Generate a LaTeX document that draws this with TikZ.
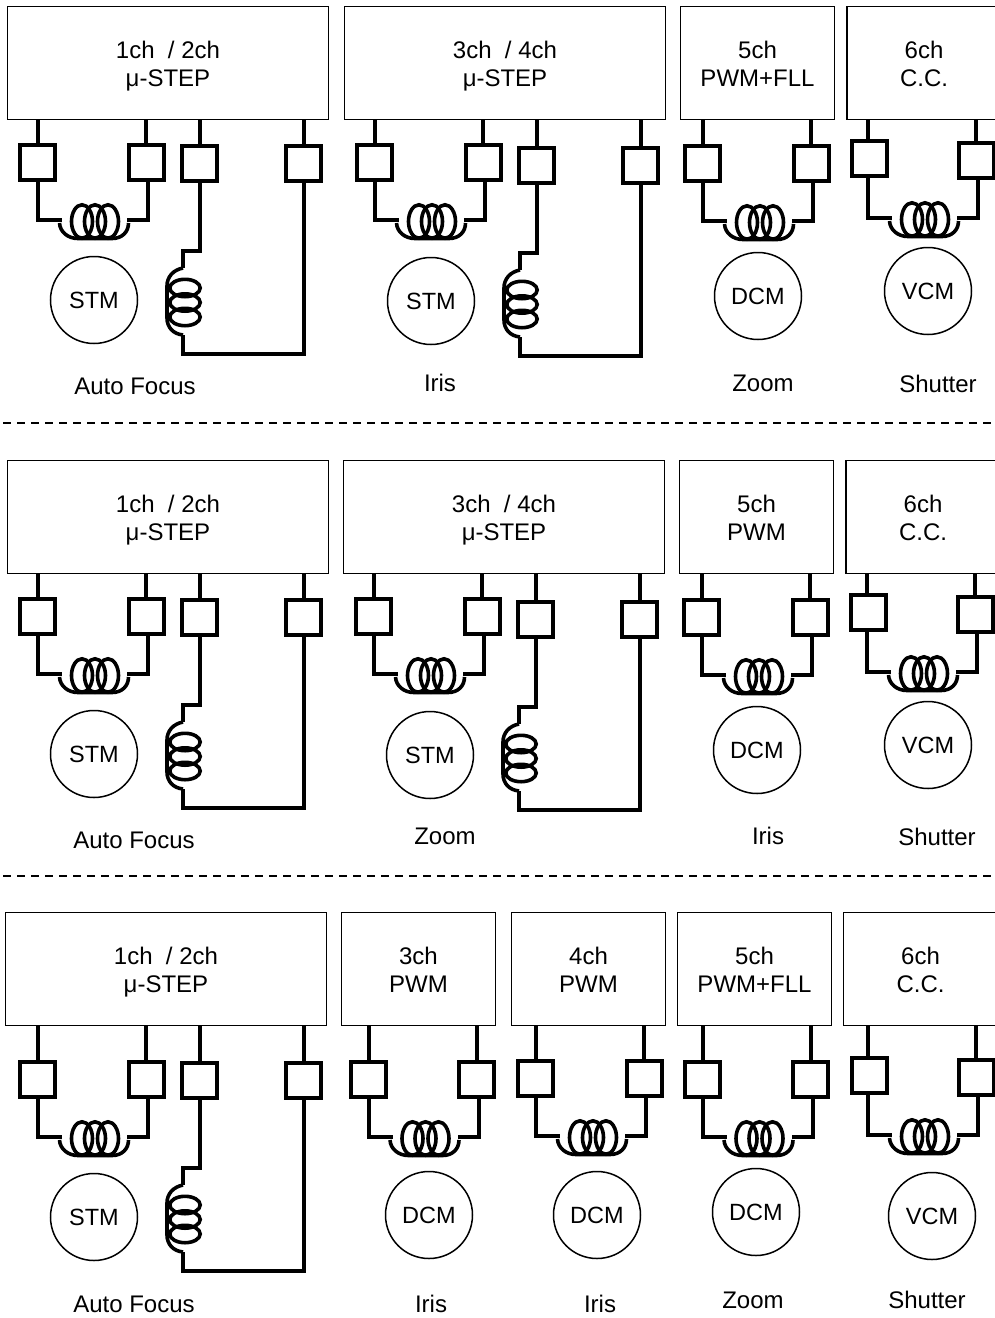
\documentclass[tikz,border=0pt]{standalone}
\usepackage{fontspec}
\setmainfont{Liberation Sans}
\usetikzlibrary{positioning}
\usetikzlibrary{calc}
\tikzset{
  chbox/.style={draw,line width=1.8pt,minimum height=113pt,align=center,inner sep=0pt,font=\fontsize{24}{28}\selectfont},
  wide/.style={chbox,minimum width=321pt},
  narrow/.style={chbox,minimum width=154pt},
  sq/.style={draw,line width=4pt,minimum size=35pt,inner sep=0pt,outer sep=0pt},
  wire/.style={line width=4pt},
  coilwire/.style={line width=3.6pt},
  motor/.style={draw,circle,line width=1.5pt,minimum size=87pt,inner sep=0pt,font=\fontsize{23.5}{26}\selectfont},
  lbl/.style={inner sep=0pt,font=\fontsize{24}{26}\selectfont},
  sepline/.style={line width=2pt,dash pattern=on 8pt off 6pt}
}
\newcommand{\chtext}[2]{\rule{0pt}{25pt}#1\\\rule[-5.8pt]{0pt}{5.8pt}#2}
\newcommand{\hunit}[5][0]{
\begin{scope}[shift={(#4,#5)}]
\coordinate (#2ta) at (38,120);
\coordinate (#2tb) at (146,120);
\coordinate (#2tc) at (148,120);
\node[sq,xshift=#1pt,yshift=#1pt] (#2a) at (37.5,162) {};
\node[sq] (#2b) at (146,162) {};
\coordinate (#2c) at (62,220);
\coordinate (#2d) at (127,220);
\draw[wire] (#2ta |- #3.south) -- (#2ta |- #2a.north);
\draw[wire] (#2tb |- #3.south) -- (#2tb |- #2b.north);
\draw[wire] (#2ta |- #2a.south) |- (#2c);
\draw[wire] (#2tc |- #2b.south) |- (#2d);
\draw[coilwire] (82,221.5) ellipse (10.5 and 16.7);
\draw[coilwire] (95,221.5) ellipse (10.5 and 16.7);
\draw[coilwire] (108,221.5) ellipse (10.5 and 16.7);
\draw[coilwire] (59.5,223) .. controls (60,232) and (68,238.5) .. (78,238.5) -- (112,238.5) .. controls (122,238.5) and (128.5,232) .. (128.5,223);
\end{scope}
}
\newcommand{\vunit}[4]{
\begin{scope}[shift={(#3,#4)}]
\node[sq] (#1a) at (199.5,163) {};
\node[sq] (#1b) at (303.5,163) {};
\coordinate (#1c) at (183,251);
\coordinate (#1d) at (183,354);
\draw[wire] (#1a.north |- #2.south) -- (#1a.north);
\draw[wire] (#1b.north |- #2.south) -- (#1b.north);
\draw[wire] (#1a.south) |- (#1c) -- (183,268);
\draw[wire] (183,335) -- (#1d) -| (#1b.south);
\draw[coilwire] (185,288) ellipse (15.2 and 8.7);
\draw[coilwire] (185,302.5) ellipse (15.2 and 8.7);
\draw[coilwire] (185,317) ellipse (15.2 and 8.7);
\draw[coilwire] (183,268) .. controls (173,270) and (167,277) .. (167,286) -- (167,318) .. controls (167,327) and (173,334) .. (183,335);
\end{scope}
}
\begin{document}
\begin{tikzpicture}[x=1pt,y=-1pt]
\useasboundingbox (0,0) rectangle (995,1318);

\node[wide] (a1) at (168,63) {\chtext{1ch~~/ 2ch}{μ-STEP}};
\node[wide] (a2) at (505,63) {\chtext{3ch~~/ 4ch}{μ-STEP}};
\node[narrow] (a3) at (757.5,63) {\chtext{5ch}{PWM+FLL}};
\node[narrow] (a4) at (924,63) {\chtext{6ch}{C.C.}};
\hunit{ah1}{a1}{0}{0}
\vunit{av1}{a1}{0}{0}
\hunit{ah2}{a2}{337}{0}
\vunit{av2}{a2}{337}{2}
\hunit{ah3}{a3}{665}{1}
\hunit[2]{ah4}{a4}{830}{-2}
\node[motor] (am1) at (94,300) {STM};
\node[motor] (am2) at (431,301) {STM};
\node[motor] (am3) at (758,296) {DCM};
\node[motor] (am4) at (928,291) {VCM};
\node[lbl] (al1) at (135,386) {Auto Focus};
\node[lbl] (al2) at (440,383) {Iris};
\node[lbl] (al3) at (763,383) {Zoom};
\node[lbl] (al4) at (938,384) {Shutter};

\coordinate (s1a) at (3,423);
\coordinate (s1b) at (995,423);
\draw[sepline] (s1a) -- (s1b);

\node[wide] (b1) at (168,517) {\chtext{1ch~~/ 2ch}{μ-STEP}};
\node[wide] (b2) at (504,517) {\chtext{3ch~~/ 4ch}{μ-STEP}};
\node[narrow] (b3) at (756.5,517) {\chtext{5ch}{PWM}};
\node[narrow] (b4) at (923,517) {\chtext{6ch}{C.C.}};
\hunit{bh1}{b1}{0}{454}
\vunit{bv1}{b1}{0}{454}
\hunit{bh2}{b2}{336}{454}
\vunit{bv2}{b2}{336}{456}
\hunit{bh3}{b3}{664}{455}
\hunit[2]{bh4}{b4}{829}{452}
\node[motor] (bm1) at (94,754) {STM};
\node[motor] (bm2) at (430,755) {STM};
\node[motor] (bm3) at (757,750) {DCM};
\node[motor] (bm4) at (928,745) {VCM};
\node[lbl] (bl1) at (134,840) {Auto Focus};
\node[lbl] (bl2) at (445,836) {Zoom};
\node[lbl] (bl3) at (768,836) {Iris};
\node[lbl] (bl4) at (937,837) {Shutter};

\coordinate (s2a) at (3,875.5);
\coordinate (s2b) at (995,875.5);
\draw[sepline] (s2a) -- (s2b);

\node[wide] (c1) at (166,969) {\chtext{1ch~~/ 2ch}{μ-STEP}};
\node[narrow] (c2) at (418.5,969) {\chtext{3ch}{PWM}};
\node[narrow] (c3) at (588.5,969) {\chtext{4ch}{PWM}};
\node[narrow] (c4) at (754.5,969) {\chtext{5ch}{PWM+FLL}};
\node[narrow] (c5) at (920.5,969) {\chtext{6ch}{C.C.}};
\hunit{ch1}{c1}{0}{917}
\vunit{cv1}{c1}{0}{917}
\hunit{ch2}{c2}{330.5}{917}
\hunit{ch3}{c3}{498}{916}
\hunit{ch4}{c4}{664.5}{917}
\hunit[2]{ch5}{c5}{830}{915}
\node[motor] (cm1) at (94,1217) {STM};
\node[motor] (cm2) at (429,1215) {DCM};
\node[motor] (cm3) at (597,1215) {DCM};
\node[motor] (cm4) at (756,1212) {DCM};
\node[motor] (cm5) at (932,1216) {VCM};
\node[lbl] (cl1) at (134,1304) {Auto Focus};
\node[lbl] (cl2) at (431,1304) {Iris};
\node[lbl] (cl3) at (600,1304) {Iris};
\node[lbl] (cl4) at (753,1300) {Zoom};
\node[lbl] (cl5) at (927,1300) {Shutter};
\end{tikzpicture}
\end{document}
